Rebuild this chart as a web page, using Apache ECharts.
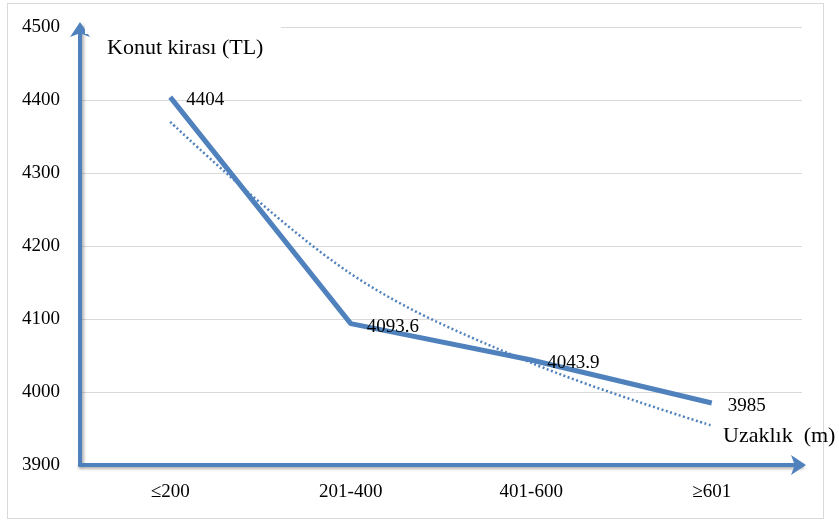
<!DOCTYPE html>
<html>
<head>
<meta charset="utf-8">
<script src="https://cdn.jsdelivr.net/npm/echarts@6/dist/echarts.min.js"></script>
<style>
  html, body { margin: 0; padding: 0; background: #fff; }
  #frame { position: absolute; left: 7px; top: 3px; width: 815px; height: 514px; border: 1px solid #d9d9d9; }
  #chart { position: absolute; left: 0; top: 0; width: 839px; height: 522px; }
</style>
</head>
<body>
<div id="frame"></div>
<div id="chart"></div>
<script>
const categories = ['≤200', '201-400', '401-600', '≥601']
const rent = [4404, 4093.6, 4043.9, 3985]
// dotted trend line
const trend = [4370, 4162, 4040, 3954]
const yTicks = { min: 3900, max: 4500, interval: 100 }

const blue = '#4f81bd'
const serif = 'Liberation Serif'

const chart = echarts.init(document.getElementById('chart'))
chart.setOption({
  animation: false,
  grid: { left: 80, right: 37, top: 27, bottom: 57 },
  xAxis: {
    type: 'category',
    data: categories,
    boundaryGap: true,
    axisLine: {
      symbol: ['none', 'arrow'],
      symbolSize: [15, 15],
      symbolOffset: [0, 4],
      lineStyle: { color: blue, width: 4, shadowColor: 'rgba(0,0,0,0.3)', shadowBlur: 3, shadowOffsetY: 2 },
    },
    axisTick: { show: false },
    axisLabel: { color: '#000', fontFamily: serif, fontSize: 19, margin: 18 },
  },
  yAxis: {
    type: 'value',
    min: yTicks.min,
    max: yTicks.max,
    interval: yTicks.interval,
    axisLine: {
      show: true,
      symbol: ['none', 'arrow'],
      symbolSize: [15, 15],
      symbolOffset: [0, 5],
      lineStyle: { color: blue, width: 4, shadowColor: 'rgba(0,0,0,0.3)', shadowBlur: 3, shadowOffsetX: 2 },
    },
    axisTick: { show: false },
    axisLabel: { color: '#000', fontFamily: serif, fontSize: 19, margin: 20, formatter: (v) => String(v) },
    splitLine: { lineStyle: { color: '#d9d9d9', width: 1 } },
  },
  graphic: [
    // white box behind the axis title, hides the top grid line there
    { type: 'rect', z: 1, shape: { x: 85, y: 18, width: 196, height: 16 }, style: { fill: '#fff' } },
    { type: 'text', z: 2, left: 107, top: 37, style: { text: 'Konut kirası (TL)', font: '22px "Liberation Serif"', fill: '#000' } },
    { type: 'text', z: 2, left: 723, top: 425, style: { text: 'Uzaklık  (m)', font: '22px "Liberation Serif"', fill: '#000' } },
  ],
  series: [
    {
      name: 'trend',
      type: 'line',
      data: trend,
      smooth: 0.35,
      showSymbol: false,
      z: 2,
      lineStyle: { color: blue, width: 2.5, type: [2, 2.5] },
    },
    {
      name: 'rent',
      type: 'line',
      data: rent,
      showSymbol: true,
      symbol: 'circle',
      symbolSize: 0,
      z: 3,
      lineStyle: { color: blue, width: 5 },
      label: {
        show: true,
        position: 'right',
        distance: 16,
        offset: [0, 3],
        color: '#000',
        fontFamily: serif,
        fontSize: 19,
      },
    },
  ],
})
</script>
</body>
</html>
